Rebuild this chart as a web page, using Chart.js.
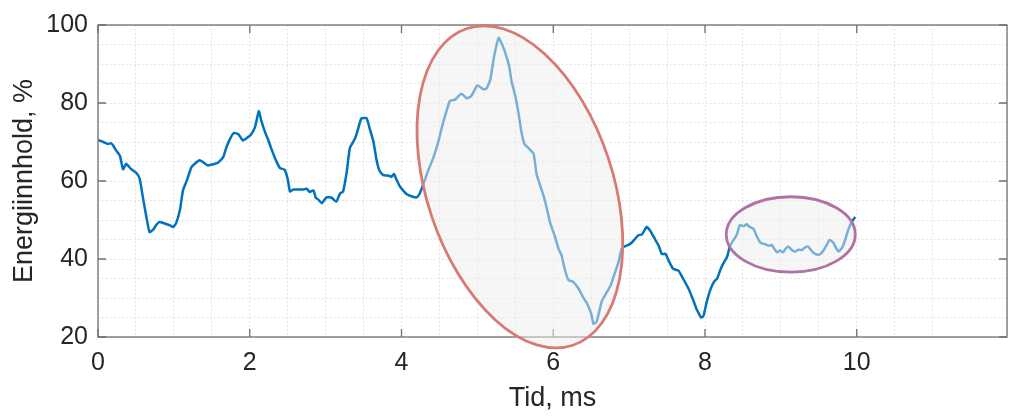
<!DOCTYPE html>
<html><head><meta charset="utf-8">
<script src="https://cdn.jsdelivr.net/npm/chart.js@4"></script>
<style>html,body{margin:0;padding:0;background:#fff}#wrap{width:1024px;height:417px}</style>
</head><body><div id="wrap"><canvas id="c" width="1024" height="417"></canvas></div>
<script>
const timeMs = [0.00,0.07,0.13,0.17,0.20,0.24,0.29,0.33,0.37,0.44,0.51,0.55,0.59,0.64,0.68,0.73,0.77,0.81,0.88,0.95,0.99,1.03,1.08,1.12,1.17,1.23,1.28,1.34,1.38,1.45,1.52,1.58,1.65,1.69,1.74,1.79,1.85,1.91,1.96,2.02,2.07,2.12,2.15,2.20,2.24,2.29,2.35,2.40,2.46,2.50,2.53,2.57,2.62,2.70,2.75,2.79,2.84,2.87,2.90,2.95,3.01,3.08,3.14,3.19,3.23,3.28,3.32,3.39,3.43,3.47,3.54,3.58,3.63,3.67,3.71,3.76,3.82,3.87,3.90,3.93,3.97,4.02,4.07,4.13,4.20,4.24,4.29,4.35,4.42,4.48,4.55,4.64,4.70,4.79,4.86,4.92,5.00,5.08,5.12,5.17,5.22,5.28,5.33,5.37,5.42,5.45,5.50,5.54,5.58,5.62,5.67,5.74,5.78,5.82,5.87,5.91,5.96,6.02,6.07,6.11,6.15,6.20,6.26,6.33,6.40,6.45,6.50,6.53,6.57,6.64,6.70,6.76,6.81,6.86,6.90,6.94,6.99,7.03,7.08,7.12,7.17,7.23,7.28,7.34,7.39,7.43,7.48,7.53,7.58,7.65,7.71,7.78,7.85,7.89,7.95,7.98,8.02,8.07,8.12,8.16,8.20,8.24,8.29,8.33,8.37,8.42,8.46,8.51,8.55,8.59,8.64,8.68,8.73,8.79,8.84,8.88,8.90,8.95,8.99,9.03,9.06,9.10,9.14,9.19,9.23,9.28,9.32,9.36,9.40,9.43,9.48,9.52,9.56,9.61,9.64,9.69,9.73,9.76,9.81,9.85,9.89,9.94,9.98];
const energyPct = [70.5,70.0,69.5,69.7,69.1,67.8,66.4,63.0,64.4,63.0,62.0,60.5,56.0,50.5,46.9,47.6,48.8,49.5,49.1,48.6,48.2,49.2,52.6,57.6,60.1,63.5,64.5,65.3,64.9,64.0,64.3,64.7,66.1,68.5,70.8,72.3,72.0,70.4,71.0,72.0,73.9,77.9,75.6,72.6,70.7,68.0,65.1,63.3,62.9,60.5,57.3,57.8,57.8,57.8,58.0,57.2,57.6,55.7,55.3,54.3,55.8,55.7,54.7,56.8,57.3,62.6,68.5,71.0,73.5,76.0,76.1,73.5,70.1,65.5,62.6,61.5,61.4,61.1,61.8,60.5,58.9,57.6,56.6,56.1,55.8,56.8,59.3,62.6,66.0,69.7,75.1,80.6,80.8,82.4,81.2,81.8,84.5,83.5,83.7,86.0,91.9,96.7,94.8,92.7,89.3,85.6,81.8,77.6,72.6,69.5,68.5,67.0,61.8,59.3,56.3,53.4,49.2,45.9,42.6,40.9,37.5,34.6,34.2,32.5,30.0,28.4,25.9,23.4,23.8,29.2,31.3,33.4,36.3,39.2,42.6,43.2,43.6,44.1,45.2,46.1,46.3,48.2,47.2,45.1,43.4,41.3,41.3,39.2,37.5,37.0,35.0,32.5,29.2,27.1,25.0,25.4,28.8,32.1,34.2,35.0,37.1,38.8,40.5,43.4,44.7,46.3,48.7,48.4,48.9,48.2,47.7,45.9,44.2,43.8,43.4,43.6,43.0,41.7,42.2,41.7,42.6,43.2,42.4,41.9,42.4,42.3,43.0,43.2,42.2,41.6,41.1,41.3,42.2,43.8,44.9,44.2,42.7,41.9,43.0,45.1,47.6,49.7,50.8];
const xTickLabels = ['0','2','4','6','8','10'];
const yTickLabels = ['20','40','60','80','100'];
const highlightCenterT = [5.56, 9.13];
const highlightCenterE = [58.5, 46.3];

const FONT = "'Liberation Sans', Arial, Helvetica, sans-serif";
const TXT = '#262626';

const ellipseStyles = [
  {rx:167, ry:93, rot:71.5, stroke:'rgb(216,122,116)'},
  {rx:64.5, ry:37.7, rot:0, stroke:'rgb(176,114,164)'}
];

const framePlugin = {
  id:'frame',
  afterDatasetsDraw(chart){
    const {ctx, chartArea:a, scales:{x,y}} = chart;
    ctx.save();
    ctx.strokeStyle = '#6f6f6f';
    ctx.lineWidth = 1.3;
    ctx.strokeRect(a.left, a.top, a.right-a.left, a.bottom-a.top);
    ctx.beginPath();
    xTickLabels.forEach(l=>{
      const px = x.getPixelForValue(Number(l));
      ctx.moveTo(px, a.bottom); ctx.lineTo(px, a.bottom-8);
      ctx.moveTo(px, a.top); ctx.lineTo(px, a.top+8);
    });
    yTickLabels.forEach(l=>{
      const py = y.getPixelForValue(Number(l));
      ctx.moveTo(a.left, py); ctx.lineTo(a.left+8, py);
      ctx.moveTo(a.right, py); ctx.lineTo(a.right-8, py);
    });
    ctx.stroke();
    highlightCenterT.forEach((t,i)=>{
      const s = ellipseStyles[i];
      const cx = x.getPixelForValue(t), cy = y.getPixelForValue(highlightCenterE[i]);
      ctx.beginPath();
      ctx.ellipse(cx, cy, s.rx, s.ry, s.rot*Math.PI/180, 0, Math.PI*2);
      ctx.fillStyle = 'rgba(238,238,238,0.5)';
      ctx.fill();
      ctx.lineWidth = 2.8;
      ctx.strokeStyle = s.stroke;
      ctx.stroke();
    });
    ctx.restore();
  }
};

new Chart(document.getElementById('c'), {
  type:'line',
  data:{datasets:[{
    data: timeMs.map((t,i)=>({x:t, y:energyPct[i]})),
    borderColor:'#0072BD', borderWidth:2.5, pointRadius:0, tension:0.15, fill:false
  }]},
  options:{
    responsive:false, animation:false, devicePixelRatio:1,
    layout:{padding:{top:17, right:17, left:0, bottom:0}},
    plugins:{legend:{display:false}, tooltip:{enabled:false}},
    scales:{
      x:{type:'linear', min:0, max:11.98,
        afterFit(s){ s.height = 80; },
        grid:{color:'#dcdcdc', lineWidth:1, drawTicks:false},
        border:{display:false, dash:[1.5,2.5]},
        ticks:{stepSize:0.5, autoSkip:false, maxRotation:0, padding:11, color:TXT, font:{family:FONT, size:25},
          callback(v){ const r=Math.round(v); return (Math.abs(v-r)<1e-6 && xTickLabels.includes(String(r))) ? String(r) : ''; }},
        title:{display:true, text:'Tid, ms', color:TXT, font:{family:FONT, size:27, lineHeight:1.2}, padding:{top:0, bottom:2}}
      },
      y:{type:'linear', min:20, max:100,
        afterFit(s){ s.width = 98; },
        grid:{color:'#dcdcdc', lineWidth:1, drawTicks:false},
        border:{display:false, dash:[1.5,2.5]},
        ticks:{stepSize:5, autoSkip:false, padding:10, color:TXT, font:{family:FONT, size:25},
          callback(v){ const r=Math.round(v); return (Math.abs(v-r)<1e-6 && yTickLabels.includes(String(r))) ? String(r) : ''; }},
        title:{display:true, text:'Energiinnhold, %', color:TXT, font:{family:FONT, size:27, lineHeight:1.2}, padding:{top:8, bottom:0}}
      }
    }
  },
  plugins:[framePlugin]
});
</script></body></html>
